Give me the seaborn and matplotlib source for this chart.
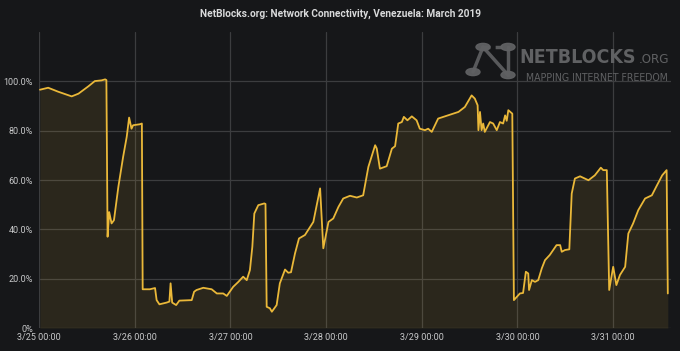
import matplotlib
matplotlib.use("Agg")
import matplotlib.pyplot as plt
import seaborn as sns
import pandas as pd
from matplotlib.patches import Circle
from matplotlib.lines import Line2D

# hours since 3/25 00:00
hours = [0.25, 2.3, 4.8, 8.2, 9.9, 12.4, 14.0, 15.7, 16.6, 16.9, 17.2, 17.6, 18.2, 18.8, 19.9,
         21.1, 22.0, 22.6, 23.2, 23.6, 25.3, 25.8, 26.0, 27.8, 29.1, 29.5, 30.2, 32.0, 32.7,
         33.0, 33.4, 34.4, 35.2, 38.3, 38.9, 39.5, 41.2, 43.3, 44.6, 46.2, 47.1, 48.7, 50.0,
         51.2, 52.1, 52.9, 53.5, 54.0, 55.0, 56.5, 56.8, 57.1, 57.9, 58.4, 59.6, 60.4, 61.7,
         62.5, 63.2, 64.2, 65.2, 66.7, 68.0, 68.8, 70.5, 71.3, 72.6, 73.8, 75.1, 76.3, 78.0,
         79.7, 81.3, 82.6, 84.3, 84.7, 85.5, 87.2, 88.5, 89.3, 90.1, 91.0, 91.5, 92.4, 93.5,
         94.7, 95.5, 96.8, 97.6, 98.5, 100.1, 101.4, 102.6, 105.2, 106.8, 108.5, 109.3, 110.0,
         110.2, 110.6, 111.0, 111.4, 111.8, 113.1, 113.9, 114.8, 115.6, 116.4, 116.9, 117.3,
         117.7, 118.5, 118.7, 119.1, 120.6, 121.4, 122.1, 122.7, 122.9, 123.6, 124.4, 125.2,
         126.1, 126.9, 128.1, 129.8, 130.7, 131.1, 131.9, 133.0, 133.6, 134.4, 135.7, 137.8,
         139.4, 140.9, 141.5, 142.4, 143.0, 144.0, 144.8, 145.7, 147.0, 147.8, 149.0, 150.3,
         152.0, 153.7, 155.0, 156.3, 157.4, 157.7]
connectivity = [96.6, 97.4, 95.8, 93.9, 95.0, 98.0, 100.1, 100.4, 100.8, 100.5, 37.0, 47.0, 42.4,
                43.7, 57.2, 69.4, 77.5, 85.3, 80.8, 82.2, 82.6, 82.9, 15.7, 15.7, 16.2, 11.3, 9.6,
                10.3, 10.7, 18.1, 10.3, 9.3, 11.1, 11.3, 14.7, 15.4, 16.3, 15.7, 14.0, 14.0, 13.0,
                16.7, 18.7, 20.8, 19.4, 23.5, 32.9, 46.4, 49.8, 50.5, 50.3, 8.6, 8.0, 6.6, 9.3,
                18.1, 23.7, 22.4, 22.6, 30.2, 36.3, 37.7, 41.0, 43.0, 56.6, 32.3, 43.0, 44.4, 49.1,
                52.5, 53.6, 52.9, 53.8, 65.3, 74.1, 72.8, 64.6, 65.6, 72.7, 73.7, 82.9, 83.5, 85.6,
                84.2, 85.8, 84.2, 80.8, 80.2, 80.8, 79.5, 84.9, 85.6, 86.2, 87.6, 89.6, 94.3, 93.0,
                90.3, 80.2, 87.6, 80.2, 82.9, 79.5, 83.5, 82.9, 80.2, 83.5, 82.9, 86.2, 84.0, 88.3,
                87.2, 86.9, 11.3, 14.0, 14.2, 22.8, 22.1, 15.4, 19.4, 18.7, 19.4, 24.2, 27.5, 29.6,
                33.6, 33.6, 30.9, 31.6, 31.9, 54.5, 60.6, 61.5, 59.9, 61.9, 65.0, 64.0, 64.0, 15.4,
                24.8, 17.4, 21.5, 24.8, 38.3, 42.4, 47.8, 52.5, 53.8, 57.9, 61.9, 64.0, 14.0]
tick_hours = [0, 24, 48, 72, 96, 120, 144]
tick_labels = ["3/25 00:00", "3/26 00:00", "3/27 00:00", "3/28 00:00",
               "3/29 00:00", "3/30 00:00", "3/31 00:00"]
y_ticks = [0, 20, 40, 60, 80, 100]
title = "NetBlocks.org: Network Connectivity, Venezuela: March 2019"

BG = "#161719"
GRID = "#3c3d3f"
LINE = "#EAB839"
TXT = "#c8c9ca"

sns.set_theme(style="dark")
plt.rcParams["font.family"] = ["Roboto", "DejaVu Sans"]

df = pd.DataFrame({"hours": hours, "connectivity": connectivity})

fig = plt.figure(figsize=(6.8, 3.51), dpi=100, facecolor=BG)
ax = fig.add_axes([39 / 680, 23 / 351, 632 / 680, 296 / 351])
ax.set_facecolor(BG)

ax.fill_between(df["hours"], df["connectivity"], 0, color=LINE, alpha=0.1, linewidth=0)
sns.lineplot(data=df, x="hours", y="connectivity", ax=ax, color=LINE, linewidth=1.3)

ax.set_xlim(0, 158.5)
ax.set_ylim(0, 120)
ax.set_xticks(tick_hours)
ax.set_xticklabels(tick_labels)
ax.set_yticks(y_ticks)
ax.set_yticklabels([("0%" if v == 0 else f"{v:.1f}%") for v in y_ticks])
ax.tick_params(axis="both", colors=TXT, labelsize=6.5, length=0)
ax.tick_params(axis="y", pad=4.3)
ax.tick_params(axis="x", pad=3.8)
ax.set_xlabel("")
ax.set_ylabel("")
ax.grid(True, color=GRID, linewidth=0.9)
ax.set_axisbelow(True)
for s in ax.spines.values():
    s.set_visible(False)

fig.text(340 / 680, 1 - 14 / 351, title, ha="center", va="center",
         color="#d8d9da", fontsize=7.3, fontweight="bold")

# watermark logo
LOGO = "#606163"
ic = [(483, 47), (508, 47), (473, 72), (508, 75)]
def fx(x):
    return x / 680
def fy(y):
    return 1 - y / 351
for (a, b) in [(0, 2), (0, 3), (1, 3)]:
    fig.add_artist(Line2D([fx(ic[a][0]), fx(ic[b][0])], [fy(ic[a][1]), fy(ic[b][1])],
                          color=LOGO, linewidth=2.5, alpha=0.9))
fig.add_artist(Line2D([fx(ic[0][0]), fx(ic[1][0])], [fy(ic[0][1]), fy(ic[1][1])],
                      color=LOGO, linewidth=2.5, linestyle=(0, (2, 1.5)), alpha=0.9))
for (cx, cy) in ic:
    fig.add_artist(Circle((fx(cx), fy(cy)), 7 / 680, transform=fig.transFigure,
                          color=LOGO, alpha=0.95))

cond = dict(family=["DejaVu Sans"], fontstretch="condensed")
fig.text(fx(519), fy(63), "NETBLOCKS", ha="left", va="baseline", color=LOGO,
         fontsize=14, fontweight="bold", **cond)
fig.text(fx(669), fy(63), ".ORG", ha="right", va="baseline", color=LOGO,
         fontsize=9.5, **cond)
fig.text(fx(668), fy(81), "MAPPING INTERNET FREEDOM", ha="right", va="baseline", color=LOGO,
         fontsize=7.6, **cond)

fig.savefig("out.png", dpi=100, facecolor=BG)
